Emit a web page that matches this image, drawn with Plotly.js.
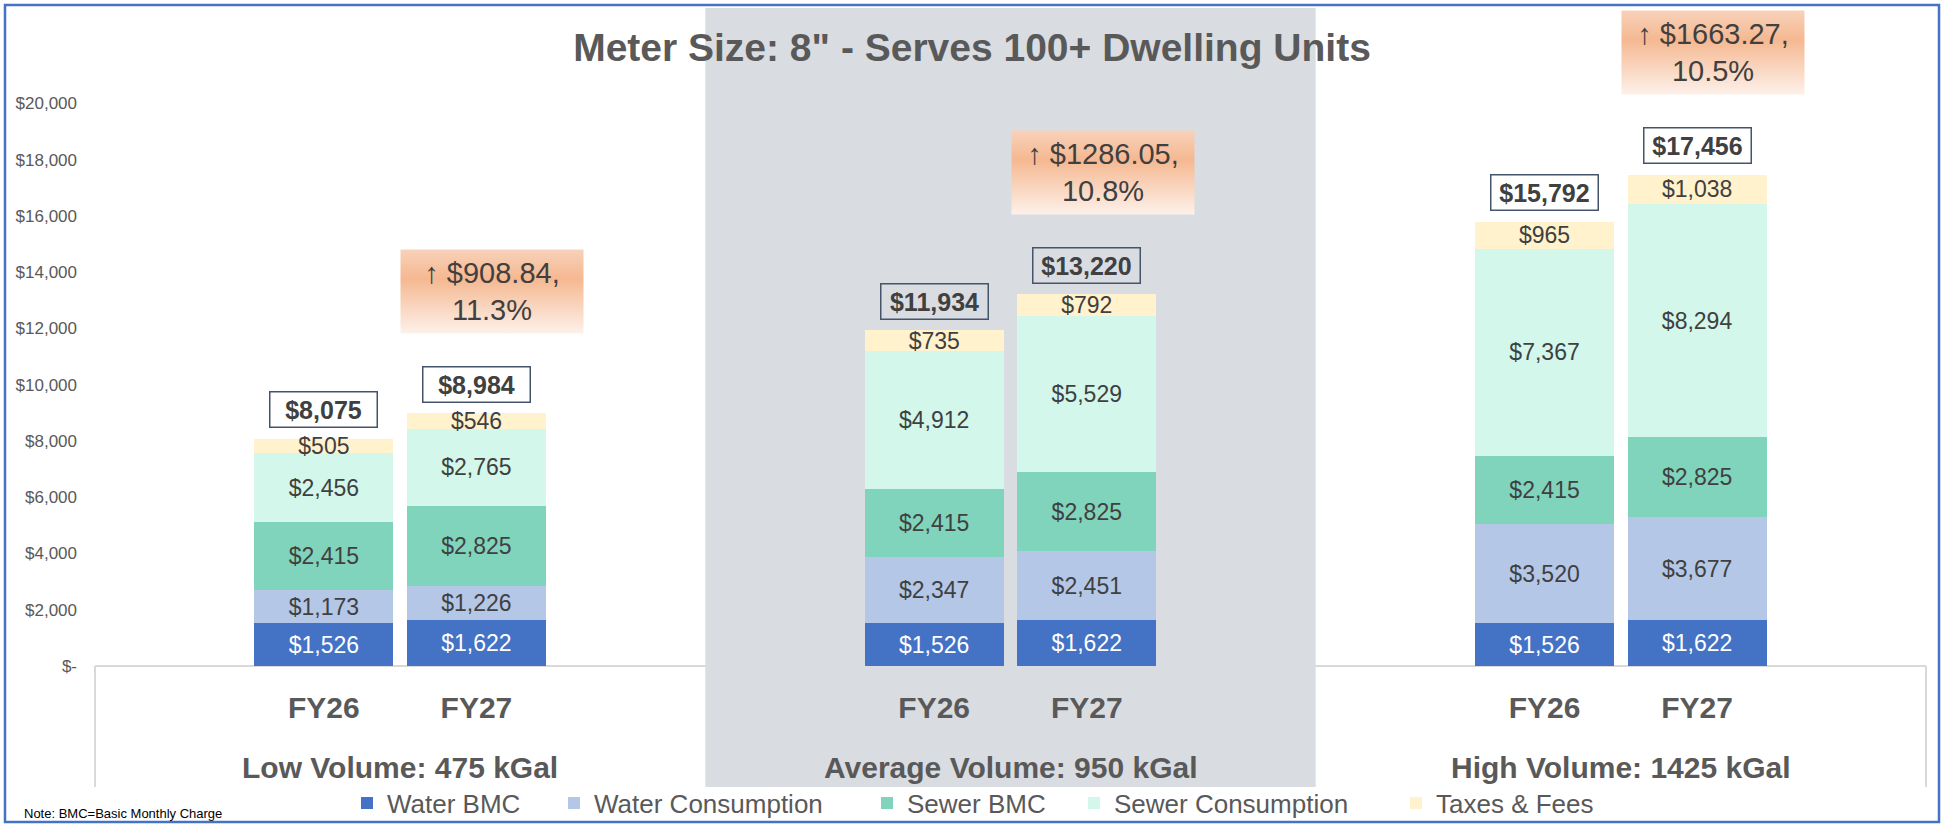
<!DOCTYPE html>
<html>
<head>
<meta charset="utf-8">
<script src="https://cdn.plot.ly/plotly-3.0.1.min.js"></script>
<style>
  html, body { margin: 0; padding: 0; background: #ffffff; }
  #chart { width: 1944px; height: 824px; }
</style>
</head>
<body>
<div id="chart"></div>
<script>
// ---------------- DATA ----------------
const groups = ["Low Volume: 475 kGal", "Average Volume: 950 kGal", "High Volume: 1425 kGal"];
const years = ["FY26", "FY27"];
const seriesNames = ["Water BMC", "Water Consumption", "Sewer BMC", "Sewer Consumption", "Taxes & Fees"];
// order: Low FY26, Low FY27, Avg FY26, Avg FY27, High FY26, High FY27
const waterBMC  = [1526, 1622, 1526, 1622, 1526, 1622];
const waterCons = [1173, 1226, 2347, 2451, 3520, 3677];
const sewerBMC  = [2415, 2825, 2415, 2825, 2415, 2825];
const sewerCons = [2456, 2765, 4912, 5529, 7367, 8294];
const taxesFees = [505, 546, 735, 792, 965, 1038];
const totals    = [8075, 8984, 11934, 13220, 15792, 17456];
const incAmount = [908.84, 1286.05, 1663.27];
const incPct    = [11.3, 10.8, 10.5];
const yTickVals = [0, 2000, 4000, 6000, 8000, 10000, 12000, 14000, 16000, 18000, 20000];
const noteText = "Note: BMC=Basic Monthly Charge";
const titleText = 'Meter Size: 8" - Serves 100+ Dwelling Units';

// ---------------- STYLE ----------------
const seriesColors = ["#4472C4", "#B4C7E7", "#80D4BC", "#D3F7EA", "#FFF2CC"];
const labelColors  = ["#FFFFFF", "#404040", "#404040", "#404040", "#404040"];
const FONT = "Liberation Sans, Arial, sans-serif";
const W = 1944, H = 824;
const M = { l: 95, r: 18, t: 47, b: 158, autoexpand: false };
const PW = W - M.l - M.r, PH = H - M.t - M.b;
const pxX = px => (px - M.l) / PW;
const pxY = py => (H - M.b - py) / PH;

// positions: group index + year offset
const yearOffset = 0.125, barWidth = 0.228;
const xPos = [];
groups.forEach((g, gi) => years.forEach((y, yi) => xPos.push(gi + (yi - 0.5) * 2 * yearOffset)));

const seriesValues = [waterBMC, waterCons, sewerBMC, sewerCons, taxesFees];
const legendIds = ["legend", "legend2", "legend3", "legend4", "legend5"];

const traces = seriesValues.map((vals, i) => ({
  type: "bar",
  name: seriesNames[i],
  x: xPos,
  y: vals,
  width: barWidth,
  marker: { color: seriesColors[i], line: { width: 0 } },
  text: vals.map(v => "$" + v.toLocaleString("en-US")),
  textposition: "inside",
  insidetextanchor: "middle",
  textangle: 0,
  constraintext: "none",
  textfont: { family: FONT, size: 23, color: labelColors[i] },
  hoverinfo: "skip",
  showlegend: true,
  legend: legendIds[i]
}));

const annotations = [];
// totals
totals.forEach((t, i) => {
  annotations.push({
    x: xPos[i], y: t, xref: "x", yref: "y",
    text: "$" + t.toLocaleString("en-US"),
    showarrow: false, yanchor: "middle", yshift: 29,
    font: { family: FONT, size: 25, color: "#404040", weight: "bold" },
    bordercolor: "#44546A", borderwidth: 1.5, borderpad: 3,
    width: 100, height: 28, align: "center"
  });
});
// increases
const incIdxStart = annotations.length;
incAmount.forEach((a, gi) => {
  const i27 = gi * 2 + 1;
  annotations.push({
    x: xPos[i27], y: totals[i27], xref: "x", yref: "y",
    text: "\u2191 $" + a.toFixed(2) + ",<br>" + incPct[gi].toFixed(1) + "%",
    showarrow: false, yanchor: "middle", yshift: 122, xshift: 16,
    font: { family: FONT, size: 29, color: "#404040" },
    bgcolor: "#F6C1A0", borderpad: 5, width: 172, height: 73, align: "center"
  });
});
// group labels
groups.forEach((g, gi) => {
  annotations.push({
    x: gi, y: pxY(767), xref: "x", yref: "paper",
    text: g, showarrow: false, yanchor: "middle",
    font: { family: FONT, size: 30, color: "#595959", weight: "bold" }
  });
});
// note
annotations.push({
  x: pxX(22), y: pxY(813), xref: "paper", yref: "paper",
  text: noteText, showarrow: false, xanchor: "left", yanchor: "middle",
  font: { family: FONT, size: 13, color: "#000000" }
});

const shapes = [
  // x axis line + vertical box lines
  { type: "line", xref: "paper", yref: "paper", x0: 0, x1: 1, y0: 0, y1: 0, line: { color: "#D9D9D9", width: 2 }, layer: "below" },
  { type: "line", xref: "paper", yref: "paper", x0: 0, x1: 0, y0: 0, y1: pxY(787), line: { color: "#D9D9D9", width: 2 }, layer: "below" },
  { type: "line", xref: "paper", yref: "paper", x0: 1, x1: 1, y0: 0, y1: pxY(787), line: { color: "#D9D9D9", width: 2 }, layer: "below" },
  // highlighted middle group band
  { type: "rect", xref: "x", yref: "paper", x0: 0.5, x1: 1.5, y0: pxY(787), y1: pxY(8), fillcolor: "#D9DCE1", line: { width: 0 }, layer: "below" },
  // outer frame
  { type: "rect", xref: "paper", yref: "paper", x0: pxX(5), x1: pxX(1939), y0: pxY(822), y1: pxY(5), line: { color: "#4472C4", width: 2.5 }, fillcolor: "rgba(0,0,0,0)", layer: "above" }
];

const legendMarkerLeft = [361, 568, 881, 1088, 1410];
const layout = {
  width: W, height: H,
  margin: M,
  paper_bgcolor: "#FFFFFF",
  plot_bgcolor: "rgba(0,0,0,0)",
  barmode: "stack",
  bargap: 0,
  hovermode: false,
  showlegend: true,
  font: { family: FONT, color: "#595959" },
  title: {
    text: titleText, x: 0.5, xref: "container", y: 1 - 47 / H, yref: "container",
    xanchor: "center", yanchor: "middle", automargin: false,
    font: { family: FONT, size: 39, color: "#595959", weight: "bold" }
  },
  xaxis: {
    range: [-0.5, 2.5], showgrid: false, zeroline: false, showline: false,
    tickvals: xPos, ticktext: xPos.map((_, i) => years[i % 2]),
    ticks: "", ticklabelstandoff: 21, automargin: false,
    tickfont: { family: FONT, size: 30, color: "#595959", weight: "bold" }
  },
  yaxis: {
    range: [0, 22000], showgrid: false, zeroline: false, showline: false,
    tickvals: yTickVals,
    ticktext: yTickVals.map(v => v === 0 ? "$-" : "$" + v.toLocaleString("en-US")),
    ticks: "", ticklabelstandoff: 17, automargin: false,
    tickfont: { family: FONT, size: 17, color: "#595959" }
  },
  uniformtext: { mode: "show", minsize: 23 },
  annotations: annotations,
  shapes: shapes
};
legendIds.forEach((id, i) => {
  layout[id] = {
    x: pxX(legendMarkerLeft[i] - 14), y: pxY(803), xref: "paper", yref: "paper",
    xanchor: "left", yanchor: "middle", orientation: "h",
    bgcolor: "rgba(0,0,0,0)", borderwidth: 0, visible: true,
    font: { family: FONT, size: 26, color: "#595959" }
  };
});

Plotly.newPlot("chart", traces, layout, { displayModeBar: false, staticPlot: true }).then(gd => {
  // vertical gradient fill for the increase call-outs
  const svg = gd.querySelector("svg.main-svg");
  const ns = "http://www.w3.org/2000/svg";
  let defs = svg.querySelector("defs");
  if (!defs) { defs = document.createElementNS(ns, "defs"); svg.insertBefore(defs, svg.firstChild); }
  const grad = document.createElementNS(ns, "linearGradient");
  grad.setAttribute("id", "incGrad");
  grad.setAttribute("x1", "0"); grad.setAttribute("y1", "0");
  grad.setAttribute("x2", "0"); grad.setAttribute("y2", "1");
  [["0%", "#F8D2BA"], ["35%", "#F5B891"], ["100%", "#FDF1EA"]].forEach(([o, c]) => {
    const s = document.createElementNS(ns, "stop");
    s.setAttribute("offset", o); s.setAttribute("stop-color", c);
    grad.appendChild(s);
  });
  defs.appendChild(grad);
  for (let k = 0; k < incAmount.length; k++) {
    const g = gd.querySelector('g.annotation[data-index="' + (incIdxStart + k) + '"] rect.bg');
    if (g) g.style.fill = "url(#incGrad)";
  }
});
</script>
</body>
</html>
